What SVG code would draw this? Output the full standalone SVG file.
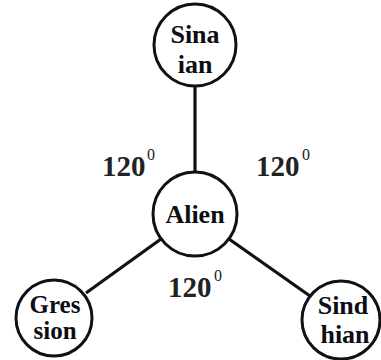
<svg xmlns="http://www.w3.org/2000/svg" width="381" height="360" viewBox="0 0 381 360">
<style>
.node{fill:#fff;stroke:#111;stroke-width:3}
.lbl{font-family:"Liberation Serif","Times New Roman",serif;font-weight:bold;font-size:26px;fill:#0d0d14;text-anchor:middle}
.sm{font-size:25px}
.ang{font-family:"Liberation Serif","Times New Roman",serif;font-weight:bold;font-size:29px;fill:#222}
.sup{font-family:"Liberation Serif","Times New Roman",serif;font-size:16px;fill:#222}
.edge{stroke:#111;stroke-width:3.2;fill:none}
</style>
<rect width="381" height="360" fill="#fff"/>
<g id="connectors">
<line class="edge" x1="195" y1="86" x2="195" y2="172"/>
<line class="edge" x1="161" y1="239" x2="86" y2="293"/>
<line class="edge" x1="229" y1="239" x2="310" y2="296"/>
</g>
<g id="sinaian">
<circle class="node" cx="195" cy="45" r="41"/>
<text class="lbl" x="195" y="43">Sina</text>
<text class="lbl" x="195" y="73">ian</text>
</g>
<g id="alien">
<circle class="node" cx="195" cy="214" r="42"/>
<text class="lbl" x="195" y="223">Alien</text>
</g>
<g id="gresion">
<circle class="node" cx="54" cy="318" r="38"/>
<text class="lbl sm" x="55" y="313">Gres</text>
<text class="lbl sm" x="55" y="339">sion</text>
</g>
<g id="sindhian">
<circle class="node" cx="341" cy="320" r="39"/>
<text class="lbl" x="343" y="314">Sind</text>
<text class="lbl" x="345" y="343">hian</text>
</g>
<g id="angles">
<text class="ang" x="102" y="176">120</text>
<text class="sup" x="147" y="160">0</text>
<text class="ang" x="256" y="176">120</text>
<text class="sup" x="302" y="160">0</text>
<text class="ang" x="168" y="297">120</text>
<text class="sup" x="214" y="281">0</text>
</g>
</svg>
